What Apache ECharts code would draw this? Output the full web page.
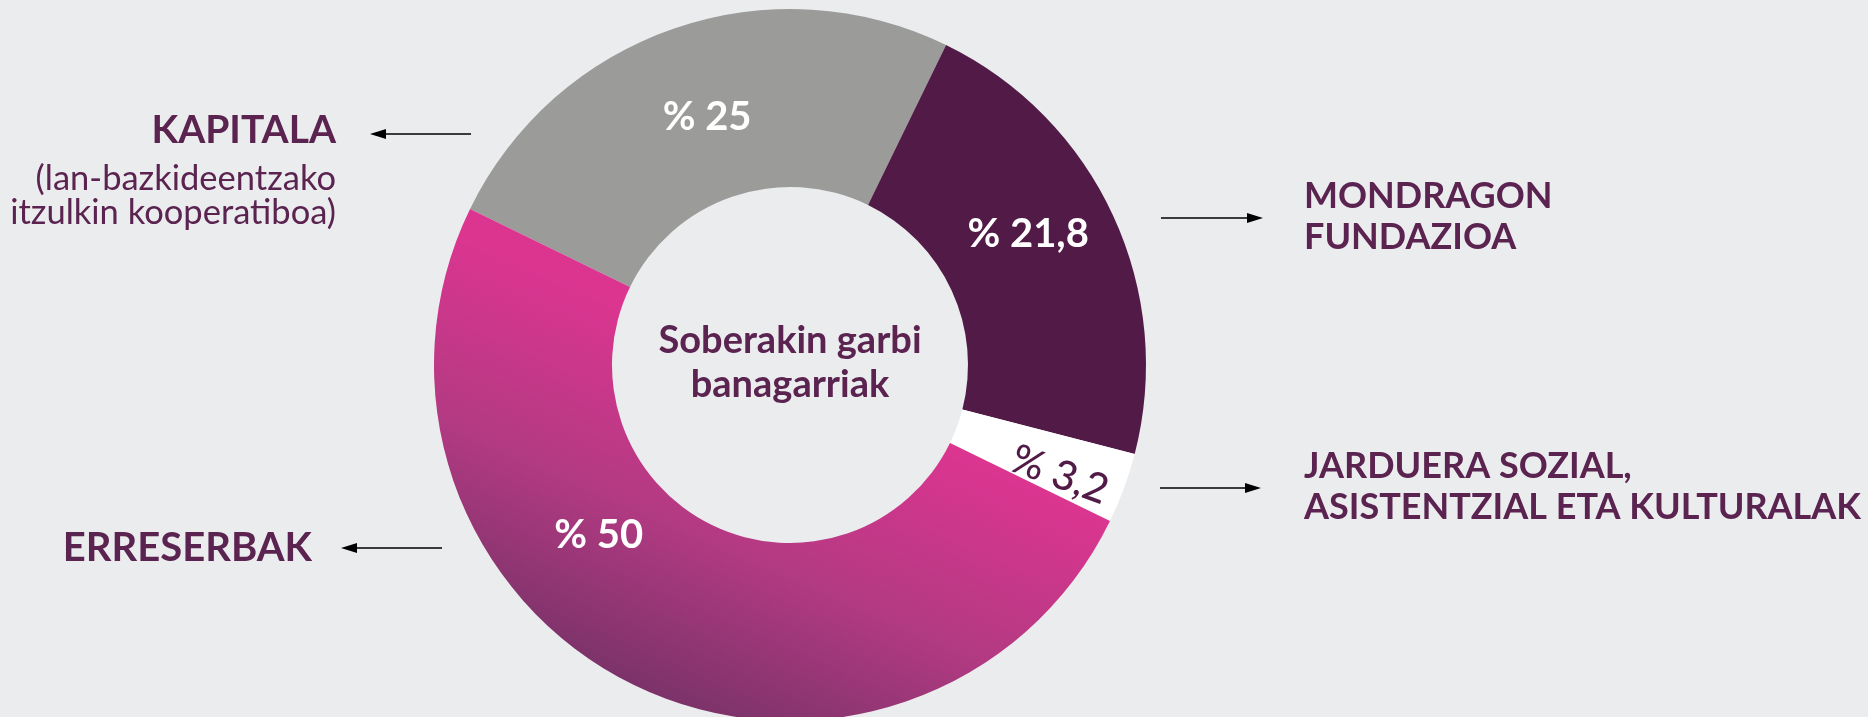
<!DOCTYPE html>
<html>
<head>
<meta charset="utf-8">
<script src="https://cdn.jsdelivr.net/npm/echarts@6/dist/echarts.min.js"></script>
<style>
  html, body { margin: 0; padding: 0; background: #ebecee; }
  #chart { width: 1868px; height: 717px; }
</style>
</head>
<body>
<div id="chart"></div>
<script>
// ---- data ----
const categories = ['KAPITALA', 'MONDRAGON FUNDAZIOA', 'JARDUERA SOZIAL, ASISTENTZIAL ETA KULTURALAK', 'ERRESERBAK'];
const values = [25, 21.8, 3.2, 50];
const centerTitle = ['Soberakin garbi', 'banagarriak'];
const kapitalaNote = ['(lan-bazkideentzako', 'itzulkin kooperatiboa)'];
const rightLabels1 = ['MONDRAGON', 'FUNDAZIOA'];
const rightLabels2 = ['JARDUERA SOZIAL,', 'ASISTENTZIAL ETA KULTURALAK'];

// ---- styles ----
const TXT = '#5a2350';
const FONT = 'Lato';
const sliceColors = [
  '#9b9b99',
  '#521b47',
  '#ffffff',
  { type: 'linear', x: 0.19, y: 0.99, x2: 0.43, y2: 0.27,
    colorStops: [{ offset: 0, color: '#693061' }, { offset: 0.55, color: '#b23a82' }, { offset: 1, color: '#dc3590' }] }
];
const labelColors = ['#ffffff', '#ffffff', '#521b47', '#ffffff'];
const labelShift = [[5, 7], [-7, -18], [21, 10], [-73, -73]];

function pct(v) { return '% ' + String(v).replace('.', ','); }

const chart = echarts.init(document.getElementById('chart'), null, { renderer: 'canvas' });

function arrow(x1, x2, y) {
  const dir = x2 > x1 ? 1 : -1;
  const headLen = 16, headHalf = 5;
  return [
    { type: 'line', silent: true, shape: { x1: x1, y1: y, x2: x2 - dir * headLen * 0.6, y2: y },
      style: { stroke: '#000', lineWidth: 1.7 } },
    { type: 'polygon', silent: true,
      shape: { points: [[x2, y], [x2 - dir * headLen, y - headHalf], [x2 - dir * headLen, y + headHalf]] },
      style: { fill: '#000' } }
  ];
}

function txt(x, y, text, opts) {
  return {
    type: 'text', silent: true, x: x, y: y,
    style: Object.assign({
      text: text, fill: TXT, fontFamily: FONT, fontSize: 36, fontWeight: 'bold',
      align: 'left', verticalAlign: 'middle'
    }, opts || {})
  };
}

const graphics = [].concat(
  [txt(790, 363, centerTitle.join('\n'), { align: 'center', fontSize: 38, lineHeight: 44 })],
  [txt(336, 130, categories[0], { align: 'right', fontSize: 39 })],
  [txt(336, 179, kapitalaNote[0], { align: 'right', fontSize: 34.5, fontWeight: 'normal' })],
  [txt(336, 213, kapitalaNote[1], { align: 'right', fontSize: 34.5, fontWeight: 'normal' })],
  [txt(312, 548, categories[3], { align: 'right', fontSize: 40 })],
  [txt(1304, 196, rightLabels1[0], { fontSize: 36 })],
  [txt(1304, 237, rightLabels1[1], { fontSize: 36 })],
  [txt(1304, 466, rightLabels2[0], { fontSize: 36 })],
  [txt(1304, 507, rightLabels2[1], { fontSize: 36 })],
  arrow(471, 370, 134),
  arrow(442, 341, 548),
  arrow(1161, 1263, 218),
  arrow(1160, 1261, 488)
);

const option = {
  backgroundColor: '#ebecee',
  animation: false,
  graphic: graphics,
  series: [{
    type: 'pie',
    center: [790, 365],
    radius: [178, 356],
    startAngle: 154,
    clockwise: true,
    silent: true,
    avoidLabelOverlap: false,
    emphasis: { disabled: true },
    labelLine: { show: false },
    label: {
      show: true,
      position: 'inside',
      fontFamily: FONT,
      fontSize: 40,
      fontWeight: 'bold',
      formatter: function (p) { return pct(p.value); }
    },
    labelLayout: function (p) {
      const s = labelShift[p.dataIndex];
      return { dx: s[0], dy: s[1] };
    },
    data: categories.map(function (c, i) {
      const item = {
        name: c,
        value: values[i],
        itemStyle: { color: sliceColors[i], borderWidth: 0 },
        label: { color: labelColors[i] }
      };
      if (i === 2) {
        item.label.rotate = 'radial';
        item.label.fontWeight = 500;
        item.label.fontSize = 41;
      }
      return item;
    })
  }]
};

chart.setOption(option);
</script>
</body>
</html>
